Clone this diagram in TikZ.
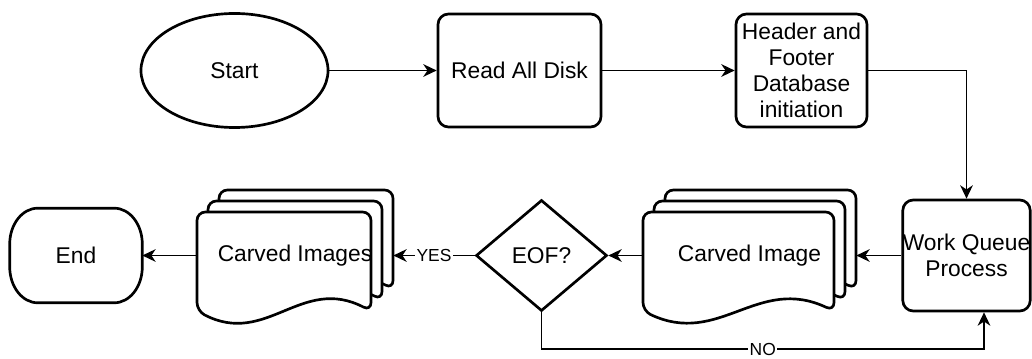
\documentclass[tikz,border=0pt]{standalone}
\usepackage{fontspec}
\setmainfont{Liberation Sans}
\usetikzlibrary{arrows.meta,shapes.geometric}

\newcommand{\docpage}[4]{%
    \filldraw[page] ({#1},{#2+#4/2}) -- ({#1},{#2}) -- ({#1+#3},{#2}) -- ({#1+#3},{#2+#4})
        .. controls ({#1+0.6*#3},{#2+#4-36}) and ({#1+0.4*#3},{#2+#4+36}) .. ({#1},{#2+#4}) -- cycle;}
\newcommand{\pagestack}[4]{%
    \docpage{#1+22}{#2-22}{#3}{#4}
    \docpage{#1+11}{#2-11}{#3}{#4}
    \docpage{#1}{#2}{#3}{#4}}

\begin{document}
\begin{tikzpicture}[
        x=0.025cm, y=-0.025cm,
        every node/.style={font=\fontsize{16.2}{18.5}\selectfont},
        shapeline/.style={draw, line width=1.9pt},
        page/.style={fill=white, draw, line width=1.9pt, rounded corners=6pt},
        flow/.style={line width=1.2pt, -{Stealth[length=9.5pt,width=9pt,inset=3pt]}},
        tag/.style={fill=white, inner sep=1pt, font=\fontsize{12.4}{14}\selectfont},
        endcap/.style={x radius=0.7cm, y radius=0.9cm}
    ]
            \useasboundingbox (0,0) rectangle (1032,359);

            \node[
                shapeline,
                ellipse,
                inner sep=0pt,
                minimum width=4.675cm,
                minimum height=2.85cm,
                name=start
            ] at (234.5,70.5) {Start};
            \node[
                shapeline,
                rounded corners=7.5pt,
                minimum width=4.075cm,
                minimum height=2.825cm,
                name=read
            ] at (519.5,70.5) {Read All Disk};
            \node[
                shapeline,
                rounded corners=7.5pt,
                align=center,
                inner sep=0pt,
                minimum width=3.275cm,
                minimum height=2.825cm,
                name=header
            ] at (801.5,70.5) {Header and\\Footer\\Database\\initiation};

            \draw[flow] (start) -- (read);
            \draw[flow] (read) -- (header);

            \node[
                shapeline,
                rounded corners=7.5pt,
                align=center,
                inner sep=0pt,
                minimum width=3.175cm,
                minimum height=2.775cm,
                name=wq
            ] at (966.5,255.5) {Work Queue\\Process};

            \draw[flow] (header.east) -| (wq.north);

            \pagestack{643}{212}{191}{99}
            \node[
                minimum width=5.325cm,
                minimum height=3.225cm,
                name=cimg
            ] at (749.5,255.5) {Carved Image};

            \node[
                shapeline,
                diamond,
                inner sep=0pt,
                minimum width=3.275cm,
                minimum height=2.775cm,
                name=eof
            ] at (541.5,255.5) {EOF?};

            \pagestack{197}{212}{174}{99}
            \node[
                minimum width=4.9cm,
                minimum height=3.225cm,
                name=cimgs
            ] at (295,255.5) {Carved Images};

            \node[
                minimum width=3.3cm,
                minimum height=2.35cm,
                name=end
            ] at (76,255.5) {End};
            \draw[shapeline] ([xshift=0.7cm]end.north west) -- ([xshift=-0.7cm]end.north east)
                arc[start angle=90, end angle=0, endcap]
                -- ([yshift=0.9cm]end.south east)
                arc[start angle=0, end angle=-90, endcap]
                -- ([xshift=0.7cm]end.south west)
                arc[start angle=270, end angle=180, endcap]
                -- ([yshift=-0.9cm]end.north west)
                arc[start angle=180, end angle=90, endcap] -- cycle;

            \draw[flow] (wq) -- (cimg);
            \draw[flow] (cimg) -- (eof);
            \draw[flow] (eof) -- node[tag] {YES} (cimgs);
            \draw[flow] (cimgs) -- (end);

            \coordinate (noturn) at (984,349);
            \draw[flow] (eof.south) |- node[tag, pos=0.75] {NO} (noturn) -- (noturn |- wq.south);
        \end{tikzpicture}
\end{document}
